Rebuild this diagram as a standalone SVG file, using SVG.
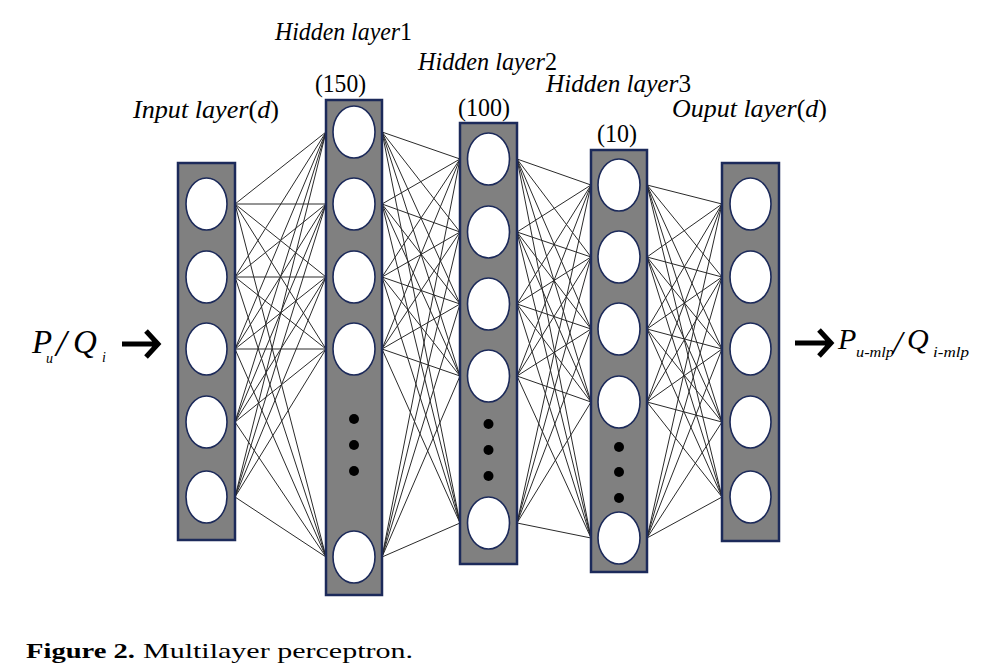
<svg xmlns="http://www.w3.org/2000/svg" width="997" height="670" viewBox="0 0 997 670">
<style>
.bg{fill:#ffffff}
.layer{fill:#808080;stroke:#1c2a5a;stroke-width:2.5}
.node{fill:#ffffff;stroke:#1c2a5a;stroke-width:1.6}
.dot{fill:#000000}
.conn line{stroke:#2a2a2a;stroke-width:1}
.lbl{font-family:"Liberation Serif","Times New Roman",Times,serif;font-size:26px;fill:#000}
.it{font-style:italic}
.big{font-size:33px}
.sub{font-size:14px}
.cap{font-family:"Liberation Serif","Times New Roman",Times,serif;font-size:22px;fill:#000}
.arrow{fill:none;stroke:#000;stroke-width:5;stroke-linecap:butt}
</style>
<rect class="bg" x="0" y="0" width="997" height="670"/>
<g id="connectors" class="conn">
<line x1="235" y1="204" x2="326" y2="132"/><line x1="235" y1="204" x2="326" y2="204"/><line x1="235" y1="204" x2="326" y2="277"/><line x1="235" y1="204" x2="326" y2="349"/><line x1="235" y1="204" x2="326" y2="557"/>
<line x1="235" y1="277" x2="326" y2="132"/><line x1="235" y1="277" x2="326" y2="204"/><line x1="235" y1="277" x2="326" y2="277"/><line x1="235" y1="277" x2="326" y2="349"/><line x1="235" y1="277" x2="326" y2="557"/>
<line x1="235" y1="349" x2="326" y2="132"/><line x1="235" y1="349" x2="326" y2="204"/><line x1="235" y1="349" x2="326" y2="277"/><line x1="235" y1="349" x2="326" y2="349"/><line x1="235" y1="349" x2="326" y2="557"/>
<line x1="235" y1="422" x2="326" y2="132"/><line x1="235" y1="422" x2="326" y2="204"/><line x1="235" y1="422" x2="326" y2="277"/><line x1="235" y1="422" x2="326" y2="349"/><line x1="235" y1="422" x2="326" y2="557"/>
<line x1="235" y1="497" x2="326" y2="132"/><line x1="235" y1="497" x2="326" y2="204"/><line x1="235" y1="497" x2="326" y2="277"/><line x1="235" y1="497" x2="326" y2="349"/><line x1="235" y1="497" x2="326" y2="557"/>
<line x1="382" y1="132" x2="460" y2="159"/><line x1="382" y1="132" x2="460" y2="232"/><line x1="382" y1="132" x2="460" y2="304"/><line x1="382" y1="132" x2="460" y2="376"/><line x1="382" y1="132" x2="460" y2="523"/>
<line x1="382" y1="204" x2="460" y2="159"/><line x1="382" y1="204" x2="460" y2="232"/><line x1="382" y1="204" x2="460" y2="304"/><line x1="382" y1="204" x2="460" y2="376"/><line x1="382" y1="204" x2="460" y2="523"/>
<line x1="382" y1="277" x2="460" y2="159"/><line x1="382" y1="277" x2="460" y2="232"/><line x1="382" y1="277" x2="460" y2="304"/><line x1="382" y1="277" x2="460" y2="376"/><line x1="382" y1="277" x2="460" y2="523"/>
<line x1="382" y1="349" x2="460" y2="159"/><line x1="382" y1="349" x2="460" y2="232"/><line x1="382" y1="349" x2="460" y2="304"/><line x1="382" y1="349" x2="460" y2="376"/><line x1="382" y1="349" x2="460" y2="523"/>
<line x1="382" y1="557" x2="460" y2="159"/><line x1="382" y1="557" x2="460" y2="232"/><line x1="382" y1="557" x2="460" y2="304"/><line x1="382" y1="557" x2="460" y2="376"/><line x1="382" y1="557" x2="460" y2="523"/>
<line x1="517" y1="159" x2="591" y2="185"/><line x1="517" y1="159" x2="591" y2="257"/><line x1="517" y1="159" x2="591" y2="329"/><line x1="517" y1="159" x2="591" y2="402"/><line x1="517" y1="159" x2="591" y2="538"/>
<line x1="517" y1="232" x2="591" y2="185"/><line x1="517" y1="232" x2="591" y2="257"/><line x1="517" y1="232" x2="591" y2="329"/><line x1="517" y1="232" x2="591" y2="402"/><line x1="517" y1="232" x2="591" y2="538"/>
<line x1="517" y1="304" x2="591" y2="185"/><line x1="517" y1="304" x2="591" y2="257"/><line x1="517" y1="304" x2="591" y2="329"/><line x1="517" y1="304" x2="591" y2="402"/><line x1="517" y1="304" x2="591" y2="538"/>
<line x1="517" y1="376" x2="591" y2="185"/><line x1="517" y1="376" x2="591" y2="257"/><line x1="517" y1="376" x2="591" y2="329"/><line x1="517" y1="376" x2="591" y2="402"/><line x1="517" y1="376" x2="591" y2="538"/>
<line x1="517" y1="523" x2="591" y2="185"/><line x1="517" y1="523" x2="591" y2="257"/><line x1="517" y1="523" x2="591" y2="329"/><line x1="517" y1="523" x2="591" y2="402"/><line x1="517" y1="523" x2="591" y2="538"/>
<line x1="647" y1="185" x2="722" y2="204"/><line x1="647" y1="185" x2="722" y2="277"/><line x1="647" y1="185" x2="722" y2="349"/><line x1="647" y1="185" x2="722" y2="422"/><line x1="647" y1="185" x2="722" y2="497"/>
<line x1="647" y1="257" x2="722" y2="204"/><line x1="647" y1="257" x2="722" y2="277"/><line x1="647" y1="257" x2="722" y2="349"/><line x1="647" y1="257" x2="722" y2="422"/><line x1="647" y1="257" x2="722" y2="497"/>
<line x1="647" y1="329" x2="722" y2="204"/><line x1="647" y1="329" x2="722" y2="277"/><line x1="647" y1="329" x2="722" y2="349"/><line x1="647" y1="329" x2="722" y2="422"/><line x1="647" y1="329" x2="722" y2="497"/>
<line x1="647" y1="402" x2="722" y2="204"/><line x1="647" y1="402" x2="722" y2="277"/><line x1="647" y1="402" x2="722" y2="349"/><line x1="647" y1="402" x2="722" y2="422"/><line x1="647" y1="402" x2="722" y2="497"/>
<line x1="647" y1="538" x2="722" y2="204"/><line x1="647" y1="538" x2="722" y2="277"/><line x1="647" y1="538" x2="722" y2="349"/><line x1="647" y1="538" x2="722" y2="422"/><line x1="647" y1="538" x2="722" y2="497"/>
</g>
<g id="input-layer">
<rect class="layer" x="178" y="163" width="57" height="377"/>
<ellipse class="node" cx="206.5" cy="204" rx="20.5" ry="26"/>
<ellipse class="node" cx="206.5" cy="277" rx="20.5" ry="26"/>
<ellipse class="node" cx="206.5" cy="349" rx="20.5" ry="26"/>
<ellipse class="node" cx="206.5" cy="422" rx="20.5" ry="26"/>
<ellipse class="node" cx="206.5" cy="497" rx="20.5" ry="26"/>
<text class="lbl it" x="133" y="118" textLength="146" lengthAdjust="spacingAndGlyphs">Input layer<tspan font-style="normal">(</tspan>d<tspan font-style="normal">)</tspan></text>
</g>
<g id="hidden-layer-1">
<rect class="layer" x="326" y="100" width="56" height="495"/>
<ellipse class="node" cx="354" cy="132" rx="21" ry="26"/>
<ellipse class="node" cx="354" cy="204" rx="21" ry="26"/>
<ellipse class="node" cx="354" cy="277" rx="21" ry="26"/>
<ellipse class="node" cx="354" cy="349" rx="21" ry="26"/>
<circle class="dot" cx="354" cy="419" r="5"/>
<circle class="dot" cx="354" cy="445" r="5"/>
<circle class="dot" cx="354" cy="471" r="5"/>
<ellipse class="node" cx="354" cy="557" rx="21" ry="26"/>
<text class="lbl it" x="275" y="40" textLength="137" lengthAdjust="spacingAndGlyphs">Hidden layer<tspan font-style="normal">1</tspan></text>
<text class="lbl" x="315" y="92" textLength="51" lengthAdjust="spacingAndGlyphs">(150)</text>
</g>
<g id="hidden-layer-2">
<rect class="layer" x="460" y="123" width="57" height="441"/>
<ellipse class="node" cx="488.5" cy="159" rx="21" ry="26"/>
<ellipse class="node" cx="488.5" cy="232" rx="21" ry="26"/>
<ellipse class="node" cx="488.5" cy="304" rx="21" ry="26"/>
<ellipse class="node" cx="488.5" cy="376" rx="21" ry="26"/>
<circle class="dot" cx="488.5" cy="424" r="5"/>
<circle class="dot" cx="488.5" cy="450" r="5"/>
<circle class="dot" cx="488.5" cy="476" r="5"/>
<ellipse class="node" cx="488.5" cy="523" rx="21" ry="26"/>
<text class="lbl it" x="418" y="70" textLength="139" lengthAdjust="spacingAndGlyphs">Hidden layer<tspan font-style="normal">2</tspan></text>
<text class="lbl" x="458" y="116" textLength="52" lengthAdjust="spacingAndGlyphs">(100)</text>
</g>
<g id="hidden-layer-3">
<rect class="layer" x="591" y="150" width="56" height="422"/>
<ellipse class="node" cx="619" cy="185" rx="21" ry="26"/>
<ellipse class="node" cx="619" cy="257" rx="21" ry="26"/>
<ellipse class="node" cx="619" cy="329" rx="21" ry="26"/>
<ellipse class="node" cx="619" cy="402" rx="21" ry="26"/>
<circle class="dot" cx="619" cy="447" r="5"/>
<circle class="dot" cx="619" cy="472" r="5"/>
<circle class="dot" cx="619" cy="498" r="5"/>
<ellipse class="node" cx="619" cy="538" rx="21" ry="26"/>
<text class="lbl it" x="546" y="92" textLength="145" lengthAdjust="spacingAndGlyphs">Hidden layer<tspan font-style="normal">3</tspan></text>
<text class="lbl" x="597" y="142" textLength="40" lengthAdjust="spacingAndGlyphs">(10)</text>
</g>
<g id="output-layer">
<rect class="layer" x="722" y="163" width="57" height="378"/>
<ellipse class="node" cx="750.5" cy="204" rx="20.5" ry="26"/>
<ellipse class="node" cx="750.5" cy="277" rx="20.5" ry="26"/>
<ellipse class="node" cx="750.5" cy="349" rx="20.5" ry="26"/>
<ellipse class="node" cx="750.5" cy="422" rx="20.5" ry="26"/>
<ellipse class="node" cx="750.5" cy="497" rx="20.5" ry="26"/>
<text class="lbl it" x="672" y="117" textLength="155" lengthAdjust="spacingAndGlyphs">Ouput layer<tspan font-style="normal">(</tspan>d<tspan font-style="normal">)</tspan></text>
</g>
<g id="input-label">
<text class="lbl it big" x="32" y="353">P</text>
<text class="lbl it sub" x="46" y="363">u</text>
<text class="lbl it big" x="56" y="356" style="font-size:38px">/</text>
<text class="lbl it big" x="73" y="353">Q</text>
<text class="lbl it sub" x="102" y="362">i</text>
<path class="arrow" d="M122,344 H157 M146,331 L158,344 L146,357"/>
</g>
<g id="output-label">
<path class="arrow" d="M795,343 H830 M819,330 L831,343 L819,356"/>
<text class="lbl it" x="838" y="349" style="font-size:30px">P</text>
<text class="lbl it" x="856" y="357" style="font-size:15px" textLength="38" lengthAdjust="spacingAndGlyphs">u-mlp</text>
<text class="lbl it" x="893" y="354" style="font-size:34px">/</text>
<text class="lbl it" x="907" y="349" style="font-size:30px">Q</text>
<text class="lbl it" x="933" y="357" style="font-size:15px" textLength="36" lengthAdjust="spacingAndGlyphs">i-mlp</text>
</g>
<g id="caption">
<text class="cap" x="26" y="658"><tspan font-weight="bold" textLength="109" lengthAdjust="spacingAndGlyphs">Figure 2.</tspan><tspan x="143" textLength="270" lengthAdjust="spacingAndGlyphs">Multilayer perceptron.</tspan></text>
</g>
</svg>
